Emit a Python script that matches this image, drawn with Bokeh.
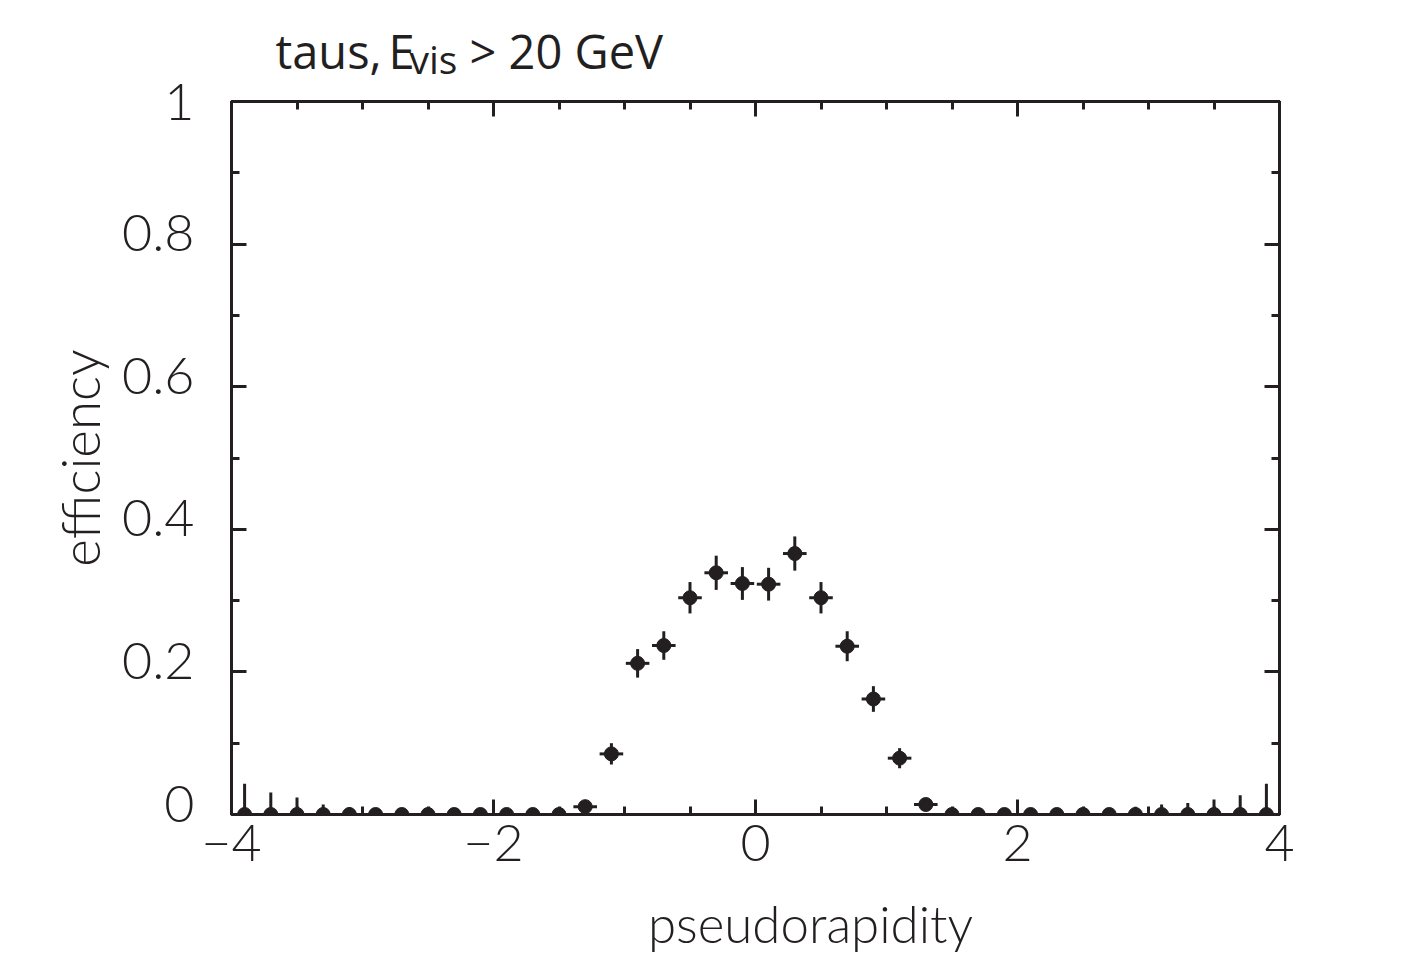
import numpy as np
from bokeh.plotting import figure
from bokeh.layouts import column
from bokeh.models import (ColumnDataSource, FixedTicker, LinearAxis, Label,
                          CustomJSTickFormatter, Range1d)
from bokeh.embed import file_html
from bokeh.resources import INLINE

# ---- data ----
eta = [-3.9, -3.7, -3.5, -3.3, -3.1, -2.9, -2.7, -2.5, -2.3, -2.1,
       -1.9, -1.7, -1.5, -1.3, -1.1, -0.9, -0.7, -0.5, -0.3, -0.1,
       0.1, 0.3, 0.5, 0.7, 0.9, 1.1, 1.3, 1.5, 1.7, 1.9,
       2.1, 2.3, 2.5, 2.7, 2.9, 3.1, 3.3, 3.5, 3.7, 3.9]
eff = [0.0, 0.0, 0.0, 0.0, 0.0, 0.0, 0.0, 0.0, 0.0, 0.0,
       0.0, 0.0, 0.0, 0.011, 0.085, 0.212, 0.237, 0.304, 0.339, 0.324,
       0.323, 0.366, 0.304, 0.236, 0.162, 0.079, 0.014, 0.0, 0.0, 0.0,
       0.0, 0.0, 0.0, 0.0, 0.0, 0.0, 0.0, 0.0, 0.0, 0.0]
err = [0.043, 0.031, 0.024, 0.014, 0.010, 0.005, 0.005, 0.005, 0.005, 0.005,
       0.005, 0.005, 0.005, 0.006, 0.015, 0.020, 0.020, 0.022, 0.024, 0.023,
       0.023, 0.024, 0.022, 0.021, 0.018, 0.014, 0.006, 0.005, 0.005, 0.005,
       0.005, 0.005, 0.005, 0.005, 0.011, 0.014, 0.016, 0.021, 0.027, 0.043]
half_bin = 0.09  # horizontal error half-width

x_major = [-4, -2, 0, 2, 4]
y_major = [0, 0.2, 0.4, 0.6, 0.8, 1.0]
x_minor = [-4 + 0.5 * i for i in range(17)]
y_minor = [0.1 * i for i in range(11)]

title_parts = ["taus,", "E", "vis", "> 20 GeV"]
x_label = "pseudorapidity"
y_label = "efficiency"

INK = "#231f20"
FONT = "Lato Light"
TFONT = "Open Sans"

W = 1414
H_TITLE, OVERLAP = 101, 40          # title strip, partly under the (transparent) main border
H_MAIN, H_XLAB = 813 + OVERLAP - 20, 71
FRAME_L, FRAME_R = 231, 135
FRAME_TOP = 101
FRAME_H = 713
MAIN_TOP = H_TITLE - OVERLAP
# offset of the label frames of the strip figures (measured from a render)
DX, DY = FRAME_L, 19
YLABEL_RAISE_PX = 11   # y tick labels sit a little above their ticks

e = np.array(eff)
er = np.array(err)
xs = np.array(eta)
src = ColumnDataSource(dict(
    x=xs, y=e,
    lo=np.clip(e - er, 0, None), hi=e + er,
    xl=xs - half_bin, xr=xs + half_bin,
))


def blank_fig(h):
    f = figure(width=W, height=h, x_range=Range1d(0, W), y_range=Range1d(0, h),
               output_backend="svg", toolbar_location=None,
               x_axis_location=None, y_axis_location=None,
               min_border=0, border_fill_color="white",
               background_fill_color="white")
    f.grid.visible = False
    f.outline_line_color = None
    return f


def put(fig, h, txt, x_px, base_px, size, font, align="left", angle=0.0):
    # x_px / base_px: wanted pixel position inside the strip (from its top-left)
    fig.add_layout(Label(x=x_px - DX, y=h + DY - base_px, x_units="screen", y_units="screen",
                         text=txt, text_font=font, text_font_size=f"{size}px",
                         text_color=INK, text_baseline="alphabetic", text_align=align,
                         angle=angle))


# ---- title strip ----
tf = blank_fig(H_TITLE)
put(tf, H_TITLE, title_parts[0], 275, 69, 47, TFONT)
put(tf, H_TITLE, title_parts[1], 388, 69, 47, TFONT)
put(tf, H_TITLE, title_parts[2], 409, 77, 39, TFONT)
put(tf, H_TITLE, title_parts[3], 469, 69, 47, TFONT)
tf.margin = (0, 0, -OVERLAP, 0)

# ---- main plot ----
p = figure(width=W, height=H_MAIN, x_range=Range1d(-4, 4), y_range=Range1d(0, 1),
           output_backend="svg", toolbar_location=None,
           min_border_left=FRAME_L, min_border_right=FRAME_R,
           min_border_top=FRAME_TOP - MAIN_TOP,
           min_border_bottom=H_MAIN - (FRAME_TOP - MAIN_TOP) - FRAME_H,
           background_fill_color="white", border_fill_color=None)
p.grid.visible = False
p.outline_line_color = INK
p.outline_line_width = 3

label_fmt = CustomJSTickFormatter(
    code="var v = Math.round(tick*10)/10; return String(v).replace('-', '\u2212');")
blank_fmt = CustomJSTickFormatter(code="return '';")


def style_axis(ax, ticks, minor, show_labels, show_ticks=True):
    ax.ticker = FixedTicker(ticks=ticks, minor_ticks=minor)
    ax.axis_line_color = INK if show_ticks else None
    ax.axis_line_width = 3
    ax.major_tick_line_color = INK if show_ticks else None
    ax.major_tick_line_width = 3
    ax.minor_tick_line_color = INK if show_ticks else None
    ax.minor_tick_line_width = 3
    ax.major_tick_in = 15 if show_ticks else 0
    ax.major_tick_out = 0
    ax.minor_tick_in = 8 if show_ticks else 0
    ax.minor_tick_out = 0
    if show_labels:
        ax.formatter = label_fmt
        ax.major_label_text_font = FONT
        ax.major_label_text_font_size = "52px"
        ax.major_label_text_color = INK
    else:
        ax.formatter = blank_fmt
        ax.major_label_text_font_size = "0px"
        ax.major_label_standoff = 0


style_axis(p.xaxis[0], x_major, x_minor, True)
p.xaxis[0].major_label_standoff = 10
style_axis(p.yaxis[0], y_major, y_minor, False)   # ticks only

# labels-only axis: each label placed slightly above its tick (clamped to the range)
raise_d = YLABEL_RAISE_PX / FRAME_H
label_ticks = [min(v + raise_d, 1.0) for v in y_major]
ylab = LinearAxis()
style_axis(ylab, label_ticks, [], True, show_ticks=False)
ylab.major_label_standoff = 37
ylab.axis_label = y_label
ylab.axis_label_text_font = FONT
ylab.axis_label_text_font_size = "53px"
ylab.axis_label_text_font_style = "normal"
ylab.axis_label_text_color = INK
ylab.axis_label_standoff = 8
p.add_layout(ylab, "left")

top = LinearAxis()
right = LinearAxis()
style_axis(top, x_major, x_minor, False)
style_axis(right, y_major, y_minor, False)
p.add_layout(top, "above")
p.add_layout(right, "right")

# error bars and points
p.segment(x0="x", y0="lo", x1="x", y1="hi", source=src, line_color=INK, line_width=3)
p.segment(x0="xl", y0="y", x1="xr", y1="y", source=src, line_color=INK, line_width=3)
p.scatter(x="x", y="y", source=src, size=14, marker="circle",
          fill_color=INK, line_color=INK)

# ---- x-axis label strip ----
xf = blank_fig(H_XLAB)
put(xf, H_XLAB, x_label, 810, 942 - (MAIN_TOP + H_MAIN), 51, FONT, align="center")

layout = column(tf, p, xf, spacing=0)
open("out.html", "w").write(file_html(layout, INLINE))
